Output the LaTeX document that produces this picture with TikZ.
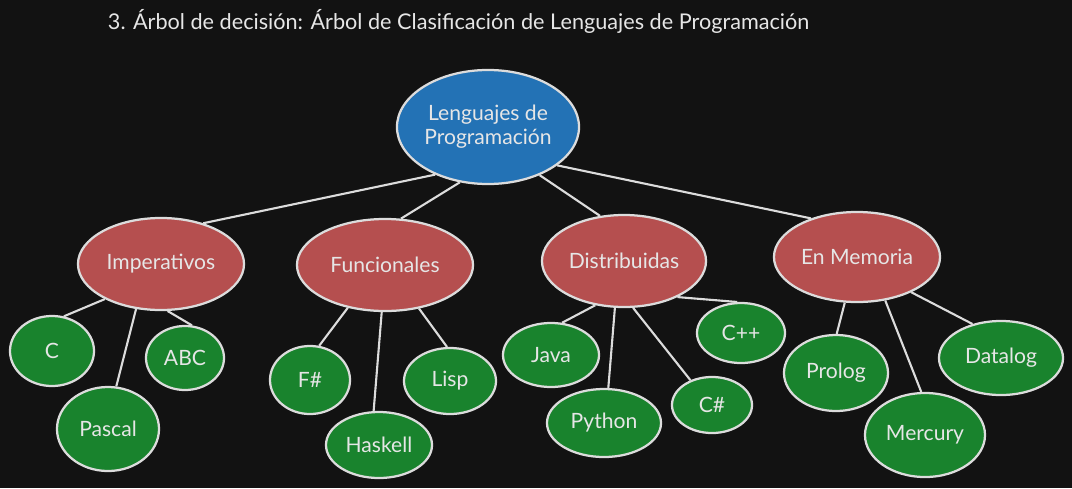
\documentclass[tikz,border=0pt]{standalone}
\usepackage{fontspec}
\setmainfont{Lato}
\usepackage{tikz}
\usetikzlibrary{shapes.geometric}
\definecolor{bgdark}{HTML}{121212}
\definecolor{strokegray}{HTML}{DCDCDC}
\definecolor{textgray}{HTML}{E6E6E6}
\definecolor{rootblue}{HTML}{2372B5}
\definecolor{catred}{HTML}{B54F4F}
\definecolor{leafgreen}{HTML}{19832D}

\begin{document}
\begin{tikzpicture}[x=0.025cm, y=-0.025cm,
		elli/.style 2 args={ellipse, draw=strokegray, line width=1.6pt, inner sep=0pt, minimum width=#1*0.05cm, minimum height=#2*0.05cm, text=textgray, font=\fontsize{15}{17}\selectfont},
		raiz/.style={fill=rootblue, align=center},
		cat/.style={fill=catred},
		hoja/.style={fill=leafgreen},
		rama/.style={draw=strokegray, line width=1.5pt}]
		\fill[bgdark] (0,0) rectangle (1072,488);
		\useasboundingbox (0,0) rectangle (1072,488);
		\node[anchor=west, text=textgray, font=\fontsize{15.4}{18}\selectfont] (titulo) at (103,21) {3. Árbol de decisión: Árbol de Clasificación de Lenguajes de Programación};
		% raiz y categorias
		\node[elli={91}{57}, raiz] (lp) at (488,127) {Lenguajes de\\Programación};
		\node[elli={83}{46}, cat] (imp) at (161,264) {Imperativos};
		\node[elli={88}{46}, cat] (fun) at (385,265) {Funcionales};
		\node[elli={82}{46}, cat] (dist) at (624,261) {Distribuidas};
		\node[elli={83}{45}, cat] (mem) at (857,257) {En Memoria};
		% hojas
		\node[elli={42}{35}, hoja] (c) at (52,351) {C};
		\node[elli={51}{42}, hoja] (pascal) at (108,429) {Pascal};
		\node[elli={39}{32}, hoja] (abc) at (185,358) {ABC};
		\node[elli={40}{34}, hoja] (fsharp) at (310,380) {F\#};
		\node[elli={53}{33}, hoja] (haskell) at (379,445) {Haskell};
		\node[elli={46}{33}, hoja] (lisp) at (450,381) {Lisp};
		\node[elli={48}{32}, hoja] (java) at (551,355) {Java};
		\node[elli={57}{34}, hoja] (python) at (604,423) {Python};
		\node[elli={40}{28}, hoja] (csharp) at (712,405) {C\#};
		\node[elli={44}{30}, hoja] (cpp) at (741,333) {C++};
		\node[elli={52}{38}, hoja] (prolog) at (836,373) {Prolog};
		\node[elli={60}{42}, hoja] (mercury) at (925,435) {Mercury};
		\node[elli={62}{37}, hoja] (datalog) at (1001,358) {Datalog};
		% ramas
		\draw[rama] (lp.222) -- (imp.44); \draw[rama] (lp.243) -- (fun.71); \draw[rama] (lp.317) -- (dist.118); \draw[rama] (lp.331) -- (mem.140);
		\draw[rama] (imp.212) -- (c.71); \draw[rama] (imp.241) -- (pascal.79); \draw[rama] (imp.278) -- (abc.78);
		\draw[rama] (fun.229) -- (fsharp.75); \draw[rama] (fun.266) -- (haskell.99); \draw[rama] (fun.308) -- (lisp.95);
		\draw[rama] (dist.237) -- (java.71); \draw[rama] (dist.259) -- (python.83); \draw[rama] (dist.281) -- (csharp.131); \draw[rama] (dist.326) -- (cpp.97);
		\draw[rama] (mem.255) -- (prolog.89); \draw[rama] (mem.303) -- (mercury.95); \draw[rama] (mem.327) -- (datalog.130);
	\end{tikzpicture}
\end{document}
